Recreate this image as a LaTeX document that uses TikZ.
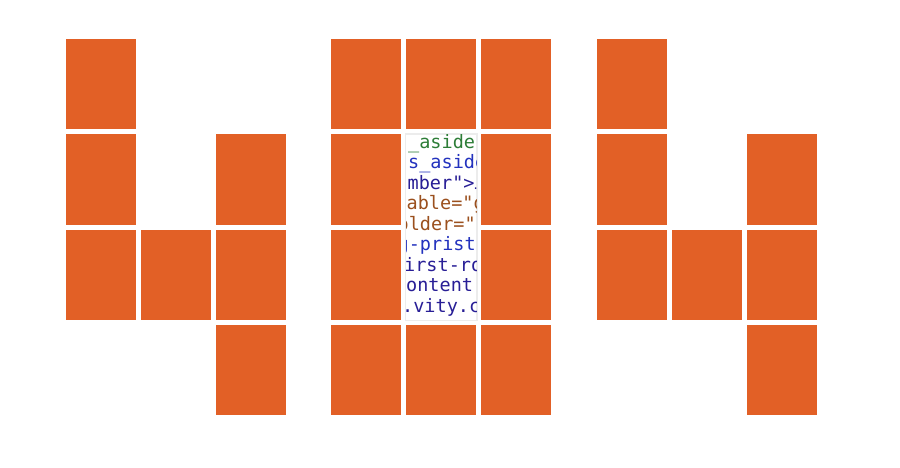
\documentclass[tikz,border=0pt]{standalone}
\usepackage{fontspec}
\setmonofont{DejaVu Sans Mono}
\usepackage{tikz}
\usetikzlibrary{positioning}
\usetikzlibrary{calc}

\definecolor{blockorange}{HTML}{E26026}
\definecolor{codegreen}{RGB}{45,125,55}
\definecolor{codeblue}{RGB}{35,50,190}
\definecolor{codenavy}{RGB}{40,30,150}
\definecolor{codebrown}{RGB}{155,80,30}

\tikzset{
    block/.style={rectangle, fill=blockorange, inner sep=0pt,
        minimum width=70pt, minimum height=90.3pt},
    codebox/.style={rectangle, fill=white, draw=gray!15, line width=0.8pt,
        inner sep=0pt, minimum width=71pt, minimum height=186pt},
    codeline/.style={anchor=mid west, inner sep=0pt,
        font=\ttfamily\fontsize{18.5}{20}\selectfont}
}

\begin{document}
\begin{tikzpicture}[x=1pt, y=-1pt, node distance=95.3pt and 75pt, on grid]
        \useasboundingbox (0,0) rectangle (900,467);

        % first four
        \node[block] (a1) at (101,84.2) {};
        \node[block] (a2) [below=of a1] {};
        \node[block] (a3) [below=of a2] {};
        \node[block] (b3) [right=of a3] {};
        \node[block] (c2) [right=150pt of a2] {};
        \node[block] (c3) [right=of b3] {};
        \node[block] (c4) [below=of c3] {};

        % zero
        \node[block] (d1) [right=265pt of a1] {};
        \node[block] (d2) [below=of d1] {};
        \node[block] (d3) [below=of d2] {};
        \node[block] (d4) [below=of d3] {};
        \node[block] (e1) [right=of d1] {};
        \node[block] (e4) [right=of d4] {};
        \node[block] (f1) [right=of e1] {};
        \node[block] (f2) [below=of f1] {};
        \node[block] (f3) [below=of f2] {};
        \node[block] (f4) [below=of f3] {};
        \node[codebox] (code) at ($(e1)!0.5!(e4)$) {};

        % second four
        \node[block] (g1) [right=266pt of d1] {};
        \node[block] (g2) [below=of g1] {};
        \node[block] (g3) [below=of g2] {};
        \node[block] (h3) [right=of g3] {};
        \node[block] (i2) [right=150pt of g2] {};
        \node[block] (i3) [right=of h3] {};
        \node[block] (i4) [below=of i3] {};

        \begin{scope}
            \clip (code.south west) rectangle (code.north east);
            \node[codeline, text=codegreen] (l1) at (408,146) {\_aside};
            \node[codeline, text=codeblue] (l2) at (408,166.5) {s\_aside};
            \node[codeline, text=codenavy] (l3) at (407.5,187) {mber">{\fontsize{11}{11}\selectfont…}};
            \node[codeline, text=codebrown] (l4) at (406.5,207.5) {able="g};
            \node[codeline, text=codebrown] (l5) at (397.5,228) {older="};
            \node[codeline, text=codeblue] (l6) at (397.5,248.5) {g-pristine};
            \node[codeline, text=codenavy] (l7) at (404,269) {irst-row};
            \node[codeline, text=codenavy] (l8) at (406,289.5) {ontent};
            \node[codeline, text=codenavy] (l9) at (402,310) {.vity.c};
        \end{scope}
        \draw[gray!15, line width=0.8pt] (code.south west) rectangle (code.north east);
    \end{tikzpicture}
\end{document}
